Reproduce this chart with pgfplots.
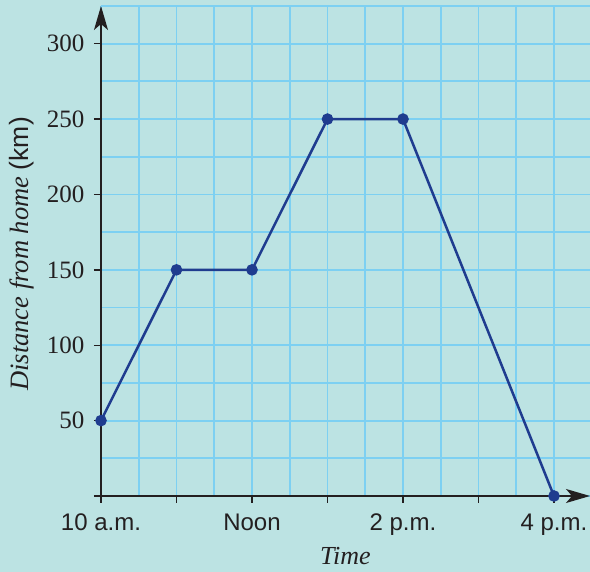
\documentclass[border=0pt]{standalone}
\usepackage{pgfplots}
\pgfplotsset{compat=1.18}
\usepackage{fontspec}
\setmainfont{Liberation Serif}
\setsansfont{Liberation Sans}
\usetikzlibrary{arrows.meta}
\definecolor{bgc}{HTML}{BCE3E3}
\definecolor{gridc}{HTML}{7DD0F2}
\definecolor{linec}{HTML}{1F3C8F}
\definecolor{axc}{HTML}{231F20}
\begin{document}
\begin{tikzpicture}[x=1pt,y=1pt]
\fill[bgc] (0,0) rectangle (590,572);
\useasboundingbox (0,0) rectangle (590,572);
\begin{axis}[
  at={(101pt,76pt)}, anchor=south west,
  scale only axis, width=489pt, height=490pt,
  xmin=0, xmax=6.477, ymin=0, ymax=325,
  axis lines=left,
  axis line style={axc, line width=1.4pt, -{Stealth[length=24pt,width=14pt,inset=6pt]}},
  xtick={0,1,2,3,4,5,6},
  xticklabels={10 a.m.,,Noon,,2 p.m.,,4 p.m.},
  minor x tick num=1,
  ytick={0,50,100,150,200,250,300},
  yticklabels={,50,100,150,200,250,300},
  minor y tick num=1,
  extra y ticks={325}, extra y tick style={major tick length=0pt, yticklabel={}},
  grid=both,
  major grid style={gridc, line width=1.8pt},
  minor grid style={gridc, line width=1.8pt},
  tick style={axc, line width=1.4pt},
  major tick length=7pt, minor tick length=0pt,
  tick align=outside,
  xticklabel style={font=\sffamily\fontsize{24}{24}\selectfont, text=axc, yshift=-7pt},
  yticklabel style={font=\fontsize{25}{25}\selectfont, text=axc, xshift=-6pt},
  xlabel={\textit{Time}},
  ylabel={\textit{Distance from home} {\sffamily(km)}},
  every axis x label/.style={at={(rel axis cs:0.5,0)}, anchor=center, yshift=-60pt, font=\fontsize{26}{26}\selectfont, text=axc},
  every axis y label/.style={at={(rel axis cs:0,0.494)}, anchor=center, xshift=-79pt, rotate=90, font=\fontsize{26.5}{26.5}\selectfont, text=axc},
  clip=false,
]
\addplot[linec, line width=2.5pt, mark=*, mark size=4.5pt, mark options={solid, fill=linec, draw=none}]
coordinates {(0,50) (1,150) (2,150) (3,250) (4,250) (6,0)};
\end{axis}
\end{tikzpicture}
\end{document}
